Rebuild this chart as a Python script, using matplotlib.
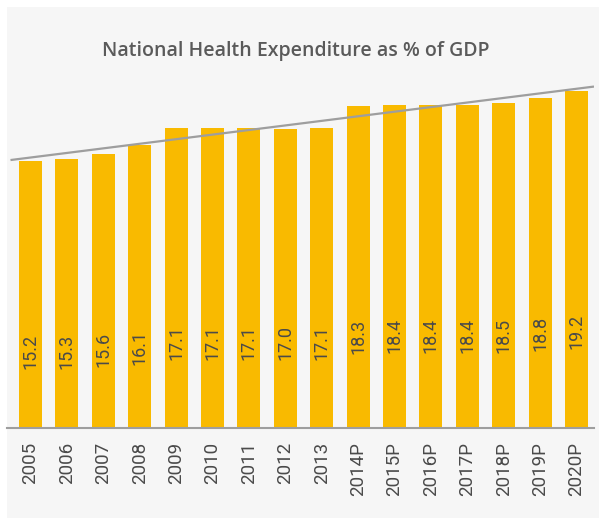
import numpy as np
import matplotlib
matplotlib.use("Agg")
import matplotlib.pyplot as plt
from matplotlib.patches import Rectangle

years = ["2005", "2006", "2007", "2008", "2009", "2010", "2011", "2012", "2013",
         "2014P", "2015P", "2016P", "2017P", "2018P", "2019P", "2020P"]
pct_gdp = [15.2, 15.3, 15.6, 16.1, 17.1, 17.1, 17.1, 17.0, 17.1,
           18.3, 18.4, 18.4, 18.4, 18.5, 18.8, 19.2]
value_labels = ["15.2", "15.3", "15.6", "16.1", "17.1", "17.1", "17.1", "17.0", "17.1",
                "18.3", "18.4", "18.4", "18.4", "18.5", "18.8", "19.2"]
title = "National Health Expenditure as % of GDP"

W, H = 599, 518
fig = plt.figure(figsize=(W / 100, H / 100), dpi=100)
fig.patch.set_facecolor("white")

# light panel behind the chart
fig.add_artist(Rectangle((7 / W, 0), 1 - 7 / W, 1 - 7 / H, transform=fig.transFigure,
                         facecolor="#f6f6f6", edgecolor="none", zorder=0))

ax = fig.add_axes([7 / W, 1 - 428 / H, 587 / W, 421.7 / H])
ax.set_facecolor("none")

x = np.arange(len(years))
ax.bar(x, pct_gdp, width=0.63, color="#f9ba00", zorder=2)

# linear trend across the series
slope, intercept = np.polyfit(x, pct_gdp, 1)
tx = np.array([-0.55, len(years) - 1 + 0.48])
ax.plot(tx, intercept + slope * tx, color="#9e9e9e", lw=1.6, zorder=3,
        solid_capstyle="butt")

for xi, v, lab in zip(x, pct_gdp, value_labels):
    ax.text(xi, v * 0.285, lab, rotation=90, ha="center", va="center",
            fontsize=13, color="#4a4a4a", family="Roboto", zorder=4)

ax.set_xlim(-0.646, 15.48)
ax.set_ylim(0, 24)
ax.set_xticks(x)
ax.set_xticklabels(years, rotation=90, fontsize=13.5, color="#4a4a4a", family="Roboto",
                   va="top")
ax.tick_params(axis="x", length=0, pad=10)
ax.set_yticks([])
for s in ["top", "left", "right"]:
    ax.spines[s].set_visible(False)
ax.spines["bottom"].set_color("#9e9e9e")
ax.spines["bottom"].set_linewidth(1.5)

fig.text(296 / W, 1 - 51 / H, title, ha="center", va="center", fontsize=14,
         fontweight="semibold", family="Open Sans", color="#5a5a5a")

fig.savefig("out.png", dpi=100, facecolor="white")
